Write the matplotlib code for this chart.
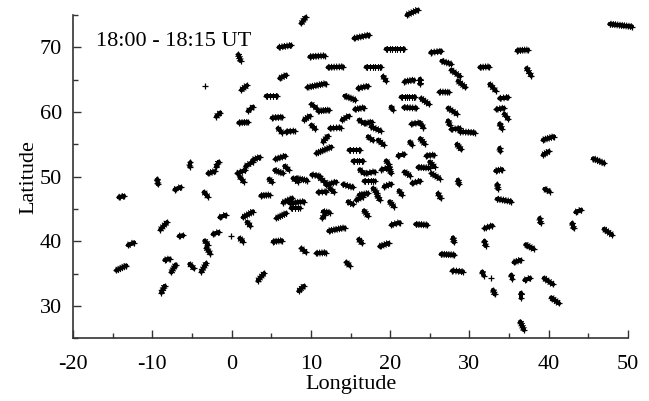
#!/usr/bin/env python
"""Cloud-feature tracks, 18:00 - 18:15 UT, drawn as short '+' trails."""

import matplotlib
matplotlib.use('Agg')
import matplotlib.pyplot as plt
import matplotlib.patheffects as pe
from matplotlib.ticker import MultipleLocator

# track start / end positions (deg)
lon0 = [0.85, -3.4, 1.23, 2.07, -1.93, 0.89, -5.29, -2.98, -1.93, 0.72, 1.77, 2.70,
        8.79, 22.1, 15.44, 5.95, 9.85, 19.51, 25.1, 12.16, 17.0, 6.06, 19.1, 21.8,
        23.8, 9.55, 15.94, 4.38, 14.26, 21.4, 23.9, 10.06, 10.9, 15.52, 20.1, 21.7,
        5.1, 9.13, 13.92, 16.07, 16.87, 17.62, 10.06, 12.37, 5.85, 6.9, 22.67, 23.72,
        11.53, 17.2, 18.46, 22.46, 23.8, 10.69, 14.76, 5.52, 15.31, 20.98, 24.56, 19.5,
        5.43, 6.69, 16.15, 17.0, 18.9, 19.9, 21.8, 23.5, 24.98, 25.2,
        47.68, 36.0, 26.5, 31.3, 37.2, 27.7, 28.55, 32.55, 26.2, 33.8, 27.3, 33.4,
        34.4, 27.3, 33.8, 27.7, 28.76, 28.4, 33.8, 39.27, 39.27, 45.6, 33.3,
        -9.37, -7.18, -14.24, -3.48, 1.02, -1.5, 1.44, 1.94, -8.99, -6.63, -2.35, -13.06,
        -3.4, -0.03, 1.02, -3.19, -8.44, -14.54, -7.6, -5.29, -3.82, 3.3, -8.86,
        4.72, 7.74, 8.16, 10.1, 11.1, 11.95, 12.37, 14.05, 16.7, 17.83, 18.38, 19.22,
        21.1, 22.75, 26.03, 3.67, 6.48, 7.32, 7.53, 10.9, 14.68, 15.73, 16.07, 19.93,
        5.64, 11.44, 11.53, 16.7, 12.24, 20.14, 23.2, 5.22, 8.8, 10.69, 16.02, 18.67,
        26.4, 14.47, 8.46,
        28.55, 33.51, 39.48, 33.47, 43.39, 38.85, 42.97, 31.9, 46.96, 27.92, 31.9, 37.08,
        35.6, 27.84, 31.62, 32.67, 35.28, 36.96, 39.4, 32.97, 36.54, 40.32, 36.41]
lat0 = [68.9, 64.07, 63.4, 60.15, 59.3, 58.35, 51.55, 50.5, 51.55, 50.5, 51.6, 52.6,
        73.7, 75.0, 71.4, 70.0, 68.55, 69.74, 69.2, 66.9, 66.9, 65.2, 65.5, 64.7,
        65.1, 63.8, 63.66, 62.47, 62.5, 62.37, 62.1, 61.2, 60.15, 60.4, 60.8, 60.7,
        59.1, 58.76, 58.76, 58.76, 58.24, 57.73, 57.98, 57.47, 57.47, 56.96, 58.14, 58.35,
        55.4, 56.2, 55.67, 55.4, 55.9, 53.6, 54.1, 52.7, 52.47, 53.24, 53.24, 52.47,
        51.0, 51.65, 51.1, 50.5, 51.1, 51.55, 50.77, 51.44, 52.3, 50.5,
        73.6, 69.5, 67.9, 66.9, 66.75, 66.5, 64.8, 64.3, 63.1, 62.1, 60.6, 60.4,
        59.7, 58.66, 58.2, 57.3, 56.96, 55.0, 54.4, 55.67, 53.35, 52.8, 50.9,
        49.6, 48.0, 46.8, 47.6, 50.0, 43.7, 43.7, 43.0, 41.8, 40.8, 41.1, 39.4,
        40.1, 40.8, 40.47, 39.0, 37.1, 35.5, 35.2, 36.5, 35.3, 33.9, 32.07,
        49.64, 49.75, 49.75, 50.3, 49.85, 48.7, 48.2, 48.8, 49.33, 48.2, 47.06, 48.46,
        47.84, 48.97, 47.4, 47.06, 46.0, 45.88, 45.1, 47.58, 46.14, 46.4, 47.17, 46.14,
        43.56, 43.56, 44.6, 44.75, 41.6, 42.53, 42.63, 39.95, 38.9, 38.15, 40.3, 39.2,
        38.0, 36.75, 32.3,
        49.5, 48.8, 48.1, 46.55, 44.5, 43.56, 42.8, 42.0, 41.9, 40.57, 40.05, 39.5,
        36.75, 35.46, 35.3, 34.4, 34.8, 34.0, 34.3, 32.47, 31.96, 31.3, 27.58]
lon1 = [1.14, -3.4, 1.94, 2.70, -1.42, 2.07, -5.2, -2.14, -1.63, 1.73, 2.70, 3.54,
        9.34, 23.5, 17.33, 7.5, 11.74, 21.7, 26.45, 14.05, 18.9, 6.9, 19.5, 23.0,
        23.8, 11.86, 17.2, 5.77, 15.6, 23.17, 24.9, 10.7, 12.3, 16.7, 20.35, 23.3,
        6.36, 9.89, 14.8, 16.7, 17.7, 18.8, 10.56, 13.75, 6.36, 7.95, 23.72, 24.2,
        12.16, 17.83, 19.2, 22.75, 24.35, 12.58, 16.15, 6.78, 16.57, 21.8, 25.53, 19.8,
        6.48, 7.2, 16.7, 18.04, 19.6, 20.1, 22.5, 24.98, 25.6, 26.24,
        50.5, 37.4, 27.7, 32.5, 37.8, 28.8, 29.5, 33.3, 27.4, 34.86, 28.4, 34.35,
        34.9, 27.5, 34.1, 28.76, 30.65, 28.97, 33.9, 40.66, 40.0, 47.0, 34.14,
        -9.28, -6.42, -13.57, -2.98, 1.52, -0.75, 2.7, 2.36, -8.15, -6.13, -1.63, -12.3,
        -2.98, -0.03, 1.44, -2.68, -7.81, -13.27, -7.05, -4.78, -3.19, 4.1, -8.44,
        5.1, 8.37, 9.55, 11.1, 11.95, 13.2, 12.9, 15.3, 18.04, 18.38, 18.7, 20.14,
        21.5, 23.8, 26.36, 4.8, 7.66, 9.13, 8.58, 11.95, 15.31, 16.57, 17.2, 20.48,
        6.9, 11.74, 12.37, 17.2, 14.26, 21.2, 24.68, 6.36, 9.34, 11.86, 16.44, 19.8,
        28.1, 14.89, 9.13,
        28.68, 33.6, 40.1, 35.28, 44.1, 38.98, 43.14, 32.9, 48.0, 28.05, 32.04, 38.1,
        36.45, 29.18, 31.8, 32.67, 35.4, 37.67, 40.53, 33.18, 36.54, 41.29, 36.87]
lat1 = [67.9, 64.07, 64.1, 60.8, 59.9, 58.4, 52.2, 50.8, 52.3, 51.0, 52.3, 53.0,
        74.64, 75.8, 71.9, 70.3, 68.7, 69.74, 69.4, 67.0, 66.9, 65.7, 64.8, 64.95,
        64.3, 64.4, 64.0, 62.47, 61.85, 62.37, 61.2, 60.6, 60.3, 60.67, 60.3, 60.6,
        59.2, 59.4, 59.4, 58.24, 58.45, 57.06, 57.37, 57.58, 56.8, 57.06, 58.35, 57.6,
        56.3, 55.6, 54.9, 54.9, 55.05, 54.6, 54.1, 53.2, 52.47, 53.45, 53.35, 51.96,
        50.5, 51.03, 50.5, 50.77, 51.3, 50.5, 50.15, 51.34, 51.5, 49.7,
        73.2, 69.6, 67.4, 67.0, 65.6, 65.5, 63.8, 63.3, 63.05, 62.25, 59.7, 60.6,
        58.9, 58.0, 57.4, 57.47, 56.8, 54.2, 53.9, 56.2, 53.9, 52.06, 51.1,
        48.8, 48.35, 47.0, 46.9, 49.2, 44.07, 44.6, 42.4, 42.94, 40.9, 41.4, 39.8,
        39.5, 40.8, 39.95, 38.1, 37.3, 36.24, 36.4, 35.8, 36.6, 35.05, 33.1,
        49.13, 49.2, 49.4, 50.1, 48.97, 49.2, 47.6, 48.35, 49.33, 47.4, 46.4, 48.87,
        47.17, 49.33, 46.65, 47.17, 46.65, 46.14, 45.1, 47.68, 45.7, 46.9, 47.4, 45.36,
        44.33, 44.07, 44.44, 43.9, 42.1, 42.9, 42.53, 40.1, 38.3, 38.25, 39.7, 39.7,
        37.9, 36.24, 33.1,
        48.8, 48.1, 47.7, 46.14, 44.85, 42.8, 42.0, 42.43, 40.98, 39.85, 39.3, 38.8,
        37.1, 35.3, 34.7, 34.4, 34.2, 34.3, 33.35, 31.8, 31.3, 30.4, 26.3]

xticks = [-20, -10, 0, 10, 20, 30, 40, 50]
yticks = [30, 40, 50, 60, 70]

plt.rcParams['font.family'] = ['Liberation Serif', 'DejaVu Serif']

fig = plt.figure(figsize=(6.49, 4.01), dpi=100)
ax = fig.add_axes([73 / 649, (401 - 338.3) / 401, 555 / 649, 323.3 / 401])

# '+' trail look: a thick short line with dense ticks on both sides
trail = [pe.withTickedStroke(spacing=1.6, angle=90, length=1.35, linewidth=0.8),
         pe.withTickedStroke(spacing=1.6, angle=-90, length=1.35, linewidth=0.8),
         pe.Normal()]

for x0, y0, x1, y1 in zip(lon0, lat0, lon1, lat1):
    if x0 == x1 and y0 == y1:
        ax.plot([x0], [y0], '+', color='k', ms=5, mew=0.9, clip_on=False)
        continue
    ax.plot([x0, x1], [y0, y1], '-', color='k', lw=2.8, clip_on=False,
            solid_capstyle='round', path_effects=trail)
    ax.plot([x0, x1], [y0, y1], '+', color='k', ms=5, mew=0.9, clip_on=False)

ax.set_xlim(-20, 50)
ax.set_ylim(25, 75)
ax.set_xticks(xticks)
ax.set_yticks(yticks)
ax.set_xticklabels([str(v) for v in xticks])
ax.xaxis.set_minor_locator(MultipleLocator(5))
ax.yaxis.set_minor_locator(MultipleLocator(5))
ax.tick_params(which='both', direction='in', color='#333333', width=1.0,
               labelsize=16, top=False, right=False)
ax.tick_params(which='major', length=6)
ax.tick_params(which='minor', length=3.5)
ax.tick_params(axis='x', which='major', pad=12)
ax.tick_params(axis='y', which='major', pad=8)
for side in ('top', 'right'):
    ax.spines[side].set_visible(False)
for side in ('left', 'bottom'):
    ax.spines[side].set_color('#333333')
    ax.spines[side].set_linewidth(1.2)

ax.set_xlabel('Longitude', fontsize=16, labelpad=1)
ax.set_ylabel('Latitude', fontsize=16, labelpad=1)
ax.text(0.041, 0.9026, '18:00 - 18:15 UT', transform=ax.transAxes,
        fontsize=16, va='baseline', ha='left')

fig.savefig('out.png', dpi=100)
